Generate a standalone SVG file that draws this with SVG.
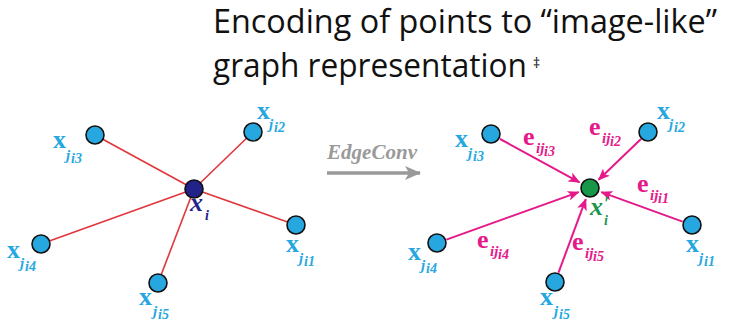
<svg xmlns="http://www.w3.org/2000/svg" width="731" height="329" viewBox="0 0 731 329">
<defs>
<marker id="ah" viewBox="0 0 12 10" markerWidth="12" markerHeight="10" refX="11" refY="5" orient="auto" markerUnits="userSpaceOnUse">
<path d="M0,0 L12,5 L0,10 L3,5 z" fill="#e5198a"/>
</marker>
<marker id="gh" viewBox="0 0 16 14" markerWidth="16" markerHeight="14" refX="15" refY="7" orient="auto" markerUnits="userSpaceOnUse">
<path d="M0,0 L16,7 L0,14 L4,7 z" fill="#999999"/>
</marker>
</defs>
<style>
.title{font-family:"Open Sans","Noto Sans",sans-serif;font-size:32px;fill:#111}
.nb{fill:#27a7e0;stroke:#111;stroke-width:1.6}
.nc{fill:#22228a;stroke:#111;stroke-width:1.6}
.ng{fill:#18964a;stroke:#111;stroke-width:1.6}
.red{stroke:#e0363c;stroke-width:1.6;fill:none}
.mag{stroke:#e5198a;stroke-width:2;fill:none;marker-end:url(#ah)}
.lb{font-family:"Liberation Serif",serif;fill:#27a7e0;font-weight:bold}
.le{font-family:"Liberation Serif",serif;fill:#e5198a;font-weight:bold}
.big{font-size:26px}
.s1{font-size:15px;font-style:italic}
.s2{font-size:14px;font-style:italic}
</style>
<rect width="731" height="329" fill="#ffffff"/>
<text class="title" x="213" y="33" textLength="504" lengthAdjust="spacingAndGlyphs">Encoding of points to “image-like”</text>
<text class="title" x="213" y="77"><tspan textLength="314" lengthAdjust="spacingAndGlyphs">graph representation</tspan><tspan font-size="14" x="533" y="68">‡</tspan></text>

<g id="connectors">
<line class="red" x1="194" y1="189" x2="95" y2="135"/>
<line class="red" x1="194" y1="189" x2="253" y2="132"/>
<line class="red" x1="194" y1="189" x2="296" y2="225"/>
<line class="red" x1="194" y1="189" x2="41" y2="244"/>
<line class="red" x1="194" y1="189" x2="158" y2="283"/>
<line x1="327" y1="173" x2="420" y2="173" stroke="#999999" stroke-width="3.5" marker-end="url(#gh)"/>
<line class="mag" x1="500" y1="139" x2="579.5" y2="182.3"/>
<line class="mag" x1="641" y1="139" x2="598.6" y2="179.7"/>
<line class="mag" x1="682.6" y1="221.6" x2="601.3" y2="192.1"/>
<line class="mag" x1="446.4" y1="239.6" x2="578.7" y2="192.1"/>
<line class="mag" x1="558.5" y1="272.6" x2="585.8" y2="199.2"/>
</g>

<g id="edgeconv-label">
<text x="327" y="159" font-family="Liberation Serif,serif" font-size="20" font-weight="bold" font-style="italic" fill="#9a9a9a" textLength="90" lengthAdjust="spacingAndGlyphs">EdgeConv</text>
</g>

<g id="L-xi">
<circle class="nc" cx="194" cy="189" r="9"/>
<text font-family="Liberation Serif,serif" font-weight="bold" font-style="italic" fill="#22228a"><tspan x="190" y="211" font-size="26">x</tspan><tspan x="205" y="220" font-size="14">i</tspan></text>
</g>
<g id="L-xj1">
<circle class="nb" cx="296" cy="225" r="9"/>
<text class="lb"><tspan class="big" x="286" y="252">x</tspan><tspan class="s1" x="299" y="263">j</tspan><tspan class="s2" x="304" y="266">i1</tspan></text>
</g>
<g id="L-xj2">
<circle class="nb" cx="253" cy="132" r="9"/>
<text class="lb"><tspan class="big" x="257" y="119">x</tspan><tspan class="s1" x="269" y="129">j</tspan><tspan class="s2" x="274" y="132">i2</tspan></text>
</g>
<g id="L-xj3">
<circle class="nb" cx="95" cy="135" r="9"/>
<text class="lb"><tspan class="big" x="53" y="148">x</tspan><tspan class="s1" x="66" y="160">j</tspan><tspan class="s2" x="71" y="163">i3</tspan></text>
</g>
<g id="L-xj4">
<circle class="nb" cx="41" cy="244" r="9"/>
<text class="lb"><tspan class="big" x="7" y="258">x</tspan><tspan class="s1" x="20" y="268">j</tspan><tspan class="s2" x="25" y="271">i4</tspan></text>
</g>
<g id="L-xj5">
<circle class="nb" cx="158" cy="283" r="9"/>
<text class="lb"><tspan class="big" x="139" y="305">x</tspan><tspan class="s1" x="153" y="316">j</tspan><tspan class="s2" x="158" y="319">i5</tspan></text>
</g>

<g id="R-xi">
<circle class="ng" cx="590" cy="188" r="9"/>
<text font-family="Liberation Serif,serif" font-weight="bold" font-style="italic" fill="#18964a"><tspan x="590" y="215" font-size="26">x</tspan><tspan x="604" y="210" font-size="18">′</tspan><tspan x="604" y="225" font-size="14">i</tspan></text>
</g>
<g id="R-xj1">
<circle class="nb" cx="692" cy="225" r="9"/>
<text class="lb"><tspan class="big" x="686" y="252">x</tspan><tspan class="s1" x="699" y="263">j</tspan><tspan class="s2" x="704" y="266">i1</tspan></text>
<text class="le"><tspan class="big" x="637" y="192">e</tspan><tspan class="s1" x="650" y="200">ij</tspan><tspan class="s2" x="658" y="203">i1</tspan></text>
</g>
<g id="R-xj2">
<circle class="nb" cx="648" cy="132" r="9"/>
<text class="lb"><tspan class="big" x="657" y="119">x</tspan><tspan class="s1" x="669" y="129">j</tspan><tspan class="s2" x="674" y="132">i2</tspan></text>
<text class="le"><tspan class="big" x="589" y="135">e</tspan><tspan class="s1" x="602" y="143">ij</tspan><tspan class="s2" x="610" y="146">i2</tspan></text>
</g>
<g id="R-xj3">
<circle class="nb" cx="491" cy="134" r="9"/>
<text class="lb"><tspan class="big" x="455" y="147">x</tspan><tspan class="s1" x="468" y="158">j</tspan><tspan class="s2" x="473" y="161">i3</tspan></text>
<text class="le"><tspan class="big" x="523" y="145">e</tspan><tspan class="s1" x="536" y="153">ij</tspan><tspan class="s2" x="544" y="156">i3</tspan></text>
</g>
<g id="R-xj4">
<circle class="nb" cx="437" cy="243" r="9"/>
<text class="lb"><tspan class="big" x="408" y="260">x</tspan><tspan class="s1" x="421" y="270">j</tspan><tspan class="s2" x="426" y="273">i4</tspan></text>
<text class="le"><tspan class="big" x="477" y="248">e</tspan><tspan class="s1" x="490" y="256">ij</tspan><tspan class="s2" x="498" y="259">i4</tspan></text>
</g>
<g id="R-xj5">
<circle class="nb" cx="555" cy="282" r="9"/>
<text class="lb"><tspan class="big" x="540" y="305">x</tspan><tspan class="s1" x="554" y="316">j</tspan><tspan class="s2" x="559" y="319">i5</tspan></text>
<text class="le"><tspan class="big" x="572" y="250">e</tspan><tspan class="s1" x="585" y="258">ij</tspan><tspan class="s2" x="593" y="261">i5</tspan></text>
</g>
</svg>
